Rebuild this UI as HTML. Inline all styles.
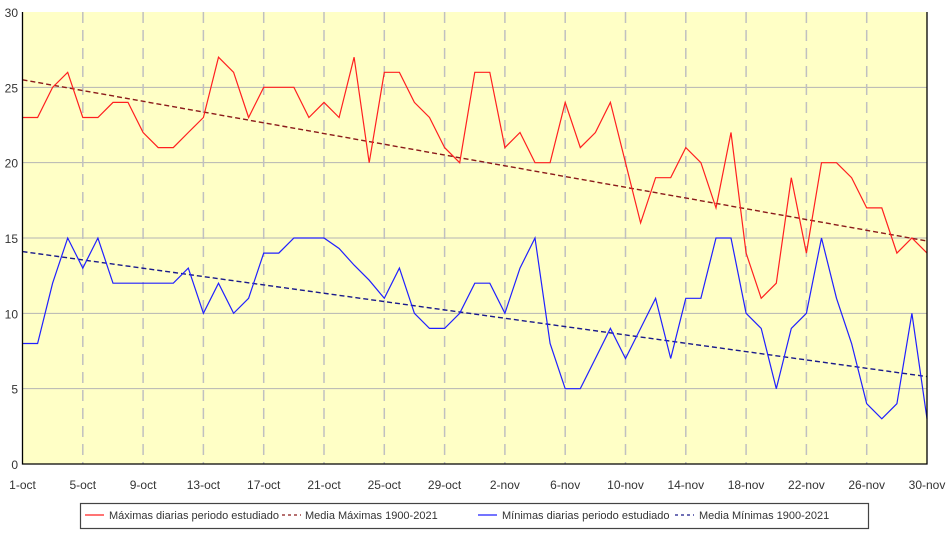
<!DOCTYPE html>
<html><head><meta charset="utf-8"><style>
html,body{margin:0;padding:0;background:#fff;width:947px;height:538px;overflow:hidden}
svg{display:block;font-family:"Liberation Sans",sans-serif}
</style></head><body>
<svg id="c" width="947" height="538" xmlns="http://www.w3.org/2000/svg"></svg>
<script>
var X0=22.5,X1=927,Y0=464,Y1=12;
function X(i){return X0+(X1-X0)*i/60}
function Y(v){return Y0-(Y0-Y1)*v/30}
var mx=[23,23,25,26,23,23,24,24,22,21,21,22,23,27,26,23,25,25,25,23,24,23,27,20,26,26,24,23,21,20,26,26,21,22,20,20,24,21,22,24,20,16,19,19,21,20,17,22,14,11,12,19,14,20,20,19,17,17,14,15,14];
var mn=[8,8,12,15,13,15,12,12,12,12,12,13,10,12,10,11,14,14,15,15,15,14.3,13.2,12.2,11,13,10,9,9,10,12,12,10,13,15,8,5,5,7,9,7,9,11,7,11,11,15,15,10,9,5,9,10,15,11,8,4,3,4,10,3];
var s='<rect x="'+X0+'" y="'+Y1+'" width="'+(X1-X0)+'" height="'+(Y0-Y1)+'" fill="#ffffc6"/>';
for(var v=5;v<30;v+=5)s+='<line x1="'+X0+'" x2="'+X1+'" y1="'+Y(v)+'" y2="'+Y(v)+'" stroke="#b4b4b4" stroke-width="1"/>';
var labs=['1-oct','5-oct','9-oct','13-oct','17-oct','21-oct','25-oct','29-oct','2-nov','6-nov','10-nov','14-nov','18-nov','22-nov','26-nov','30-nov'];
for(var k=0;k<16;k++){var x=X(k*4);
 if(k>0&&k<15)s+='<line x1="'+x+'" x2="'+x+'" y1="'+Y1+'" y2="'+Y0+'" stroke="#c0c0c0" stroke-width="1.5" stroke-dasharray="11,7"/>';
 s+='<text x="'+x+'" y="489" font-size="12" fill="#333" text-anchor="middle">'+labs[k]+'</text>';}
for(var v=0;v<=30;v+=5)s+='<text x="18" y="'+(Y(v)+5)+'" font-size="12" fill="#333" text-anchor="end">'+v+'</text>';
function pl(a,c){var p=a.map(function(v,i){return X(i).toFixed(1)+','+Y(v).toFixed(1)}).join(' ');return '<polyline points="'+p+'" fill="none" stroke="'+c+'" stroke-width="1.2"/>'}
s+='<line x1="'+X0+'" x2="'+X1+'" y1="'+Y(25.5)+'" y2="'+Y(14.8)+'" stroke="#8b1a1a" stroke-width="1.4" stroke-dasharray="5,3"/>';
s+='<line x1="'+X0+'" x2="'+X1+'" y1="'+Y(14.1)+'" y2="'+Y(5.8)+'" stroke="#1a1a8b" stroke-width="1.4" stroke-dasharray="5,3"/>';
s+=pl(mx,'#ff2020')+pl(mn,'#2020ff');
s+='<polyline points="'+X0+','+Y1+' '+X0+','+Y0+' '+X1+','+Y0+' '+X1+','+Y1+'" fill="none" stroke="#000" stroke-width="1.3"/>';
s+='<rect x="80.5" y="503.5" width="788" height="25" fill="#fff" stroke="#444" stroke-width="1.2"/>';
s+='<line x1="85" x2="104" y1="515" y2="515" stroke="#ff2020" stroke-width="1.2"/>';
s+='<text x="109" y="519" font-size="11" fill="#333">Máximas diarias periodo estudiado</text>';
s+='<line x1="282" x2="301" y1="515" y2="515" stroke="#8b1a1a" stroke-width="1.2" stroke-dasharray="3,3"/>';
s+='<text x="305" y="519" font-size="11" fill="#333">Media Máximas 1900-2021</text>';
s+='<line x1="478" x2="497" y1="515" y2="515" stroke="#2020ff" stroke-width="1.2"/>';
s+='<text x="502" y="519" font-size="11" fill="#333">Mínimas diarias periodo estudiado</text>';
s+='<line x1="675" x2="694" y1="515" y2="515" stroke="#1a1a8b" stroke-width="1.2" stroke-dasharray="3,3"/>';
s+='<text x="699" y="519" font-size="11" fill="#333">Media Mínimas 1900-2021</text>';
document.getElementById('c').innerHTML=s;
</script>
</body></html>
